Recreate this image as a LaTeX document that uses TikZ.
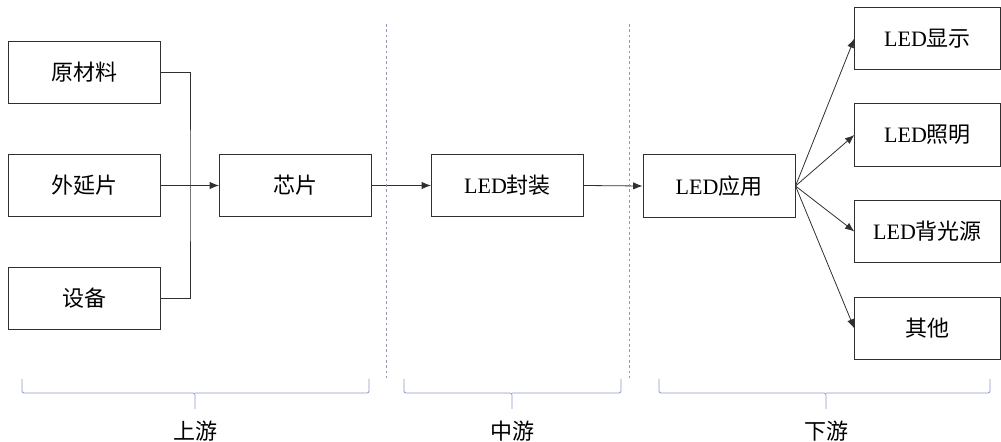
\documentclass[tikz,border=0pt]{standalone}
\usepackage{fontspec}
\setmainfont{Liberation Serif}
\newfontfamily\cjk{Noto Sans CJK SC}
\usetikzlibrary{arrows.meta}
\newcommand{\zh}[1]{{\cjk #1}}
\definecolor{edgegray}{HTML}{303030}
\definecolor{bracecol}{HTML}{8C96C8}
\definecolor{dashcol}{HTML}{9894B0}
\begin{document}
\begin{tikzpicture}[x=0.75pt,y=-0.75pt,
    box/.style={draw=edgegray,line width=0.75pt,minimum width=114pt,minimum height=47pt,
        inner sep=0pt,font=\fontsize{16.5}{19}\selectfont},
    leafbox/.style={box,minimum width=109pt},
    link/.style={draw=edgegray,line width=0.6pt,-{Latex[length=7pt,width=5.5pt]}},
    divider/.style={draw=dashcol,line width=0.7pt,dash pattern=on 2pt off 2pt},
    bracket/.style={draw=bracecol,line width=0.6pt,rounded corners=1.5pt},
    stage/.style={font=\fontsize{16.5}{19}\selectfont}]
    \useasboundingbox (0,0) rectangle (1001,442);
    % upstream inputs
    \node[box] (raw) at (84,72.5) {\zh{原材料}};
    \node[box] (epi) at (84,185.5) {\zh{外延片}};
    \node[box] (equip) at (84,298.5) {\zh{设备}};
    \node[box] (chip) at (295.5,185.5) {\zh{芯片}};
    % chain
    \node[box] (pack) at (507.5,185.5) {LED\zh{封装}};
    \node[box] (app) at (719,186) {LED\zh{应用}};
    % applications
    \node[leafbox] (disp) at (927.5,38.5) {LED\zh{显示}};
    \node[leafbox] (light) at (927.5,135) {LED\zh{照明}};
    \node[leafbox] (back) at (927.5,231.5) {LED\zh{背光源}};
    \node[leafbox] (other) at (927.5,328.5) {\zh{其他}};
    \coordinate (joint) at (190,185.5);
    \draw[draw=edgegray,line width=0.6pt] (raw.east) -| (joint) |- (equip.east);
    \draw[link] (epi.east) -- (chip.west);
    \draw[link] (chip.east) -- (pack.west);
    \draw[link] (pack.east) -- (app.west);
    \draw[link] (app.east) -- (disp.west);
    \draw[link] (app.east) -- (light.west);
    \draw[link] (app.east) -- (back.west);
    \draw[link] (app.east) -- (other.west);
    % stage dividers
    \draw[divider] (386,24) -- (386,378);
    \draw[divider] (629,24) -- (629,378);
    % brackets
    \draw[bracket] (22,379) -- (22,393) -- (195,393) -- (195,409);
    \draw[bracket] (195,393) -- (369,393) -- (369,379);
    \draw[bracket] (404,379) -- (404,393) -- (512,393) -- (512,409);
    \draw[bracket] (512,393) -- (621,393) -- (621,379);
    \draw[bracket] (659,379) -- (659,393) -- (826,393) -- (826,409);
    \draw[bracket] (826,393) -- (990,393) -- (990,379);
    \node[stage] (up) at (195,431) {\zh{上游}};
    \node[stage] (mid) at (512,431) {\zh{中游}};
    \node[stage] (down) at (826,431) {\zh{下游}};
\end{tikzpicture}
\end{document}
